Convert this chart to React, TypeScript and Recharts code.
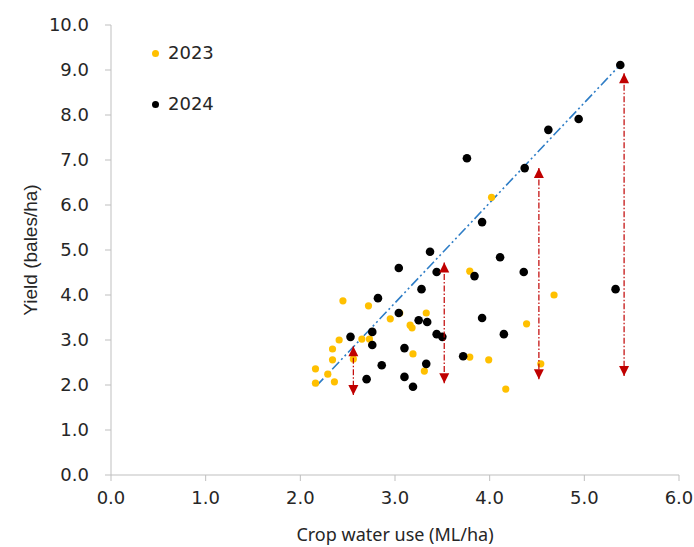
import React from "react";
import { ScatterChart, Scatter, XAxis, YAxis } from "recharts";

const xTicks = [0, 1, 2, 3, 4, 5, 6];
const yTicks = [0, 1, 2, 3, 4, 5, 6, 7, 8, 9, 10];

const water2023 = [2.16, 2.16, 2.29, 2.36, 2.34, 2.34, 2.41, 2.45, 2.56, 2.65, 2.73, 2.72, 2.95, 3.05, 3.33, 3.16, 3.18, 3.19, 3.31, 4.02, 3.79, 4.68, 4.39, 3.79, 3.99, 4.54, 4.17];
const yield2023 = [2.36, 2.04, 2.24, 2.07, 2.56, 2.8, 3.0, 3.87, 2.58, 3.02, 3.02, 3.76, 3.47, 3.6, 3.6, 3.33, 3.27, 2.69, 2.31, 6.17, 4.53, 4.0, 3.36, 2.62, 2.56, 2.47, 1.91];

const water2024 = [5.38, 4.94, 4.62, 4.37, 3.76, 3.92, 4.11, 4.36, 5.33, 3.37, 3.44, 3.84, 3.04, 2.82, 3.28, 3.04, 3.25, 3.34, 3.92, 3.44, 3.5, 4.15, 2.53, 2.76, 2.76, 3.1, 2.86, 3.33, 3.72, 2.7, 3.1, 3.19];
const yield2024 = [9.11, 7.91, 7.67, 6.82, 7.04, 5.62, 4.84, 4.51, 4.13, 4.96, 4.51, 4.42, 4.6, 3.93, 4.13, 3.6, 3.44, 3.4, 3.49, 3.13, 3.07, 3.13, 3.07, 3.18, 2.89, 2.82, 2.44, 2.47, 2.64, 2.13, 2.18, 1.96];

const trendX = [2.17, 5.35];
const trendY = [1.98, 9.05];

const arrowX = [2.56, 3.52, 4.52, 5.42];
const arrowTop = [2.86, 4.72, 6.82, 8.93];
const arrowBottom = [1.78, 2.04, 2.13, 2.2];

const legendLabels = ["2023", "2024"];

const data2023 = water2023.map((x, i) => ({ x, y: yield2023[i] }));
const data2024 = water2024.map((x, i) => ({ x, y: yield2024[i] }));
const trendData = trendX.map((x, i) => ({ x, y: trendY[i] }));
const arrows = arrowX.map((x, i) => [
  { x, y: arrowTop[i], dir: "up" },
  { x, y: arrowBottom[i], dir: "down" },
]);

const TICKFONT = "'DejaVu Sans', sans-serif";
const XLABELFONT = "'Noto Sans', sans-serif";
const YLABELFONT = "'Liberation Sans', Arial, sans-serif";
const AXIS = "#BFBFBF";
const TEXT = "#262626";
const RED = "#C00000";

const Dot = (r: number, fill: string) => (p: any) =>
  <circle cx={p.cx} cy={p.cy} r={r} fill={fill} />;

const Arrow = (p: any) => {
  const { cx, cy, payload } = p;
  const h = 10;
  const w = 5;
  if (payload.dir === "up") {
    return <polygon points={`${cx},${cy} ${cx - w},${cy + h} ${cx + w},${cy + h}`} fill={RED} />;
  }
  return <polygon points={`${cx},${cy} ${cx - w},${cy - h} ${cx + w},${cy - h}`} fill={RED} />;
};

const Empty = () => <g />;

export default function App() {
  return (
    <div style={{ position: "absolute", left: 0, top: 0, width: 694, height: 547, background: "#fff" }}>
      <ScatterChart width={694} height={547} margin={{ top: 25, right: 15, bottom: 0, left: 0 }}>
        <XAxis
          type="number"
          dataKey="x"
          domain={[0, 6]}
          ticks={xTicks}
          interval={0}
          height={72}
          tickFormatter={(v: number) => v.toFixed(1)}
          stroke={AXIS}
          tickSize={6}
          tickMargin={10}
          tick={{ fill: TEXT, fontSize: 18, fontFamily: TICKFONT }}
          label={{ value: "Crop water use (ML/ha)", position: "insideBottom", offset: 6, fill: TEXT, fontSize: 18, fontFamily: XLABELFONT }}
          allowDataOverflow
        />
        <YAxis
          type="number"
          dataKey="y"
          domain={[0, 10]}
          ticks={yTicks}
          interval={0}
          width={111}
          tickFormatter={(v: number) => v.toFixed(1)}
          stroke={AXIS}
          tickSize={6}
          tickMargin={16}
          tick={{ fill: TEXT, fontSize: 18, fontFamily: TICKFONT }}
          label={{ value: "Yield (bales/ha)", angle: -90, position: "insideLeft", offset: 30, style: { textAnchor: "middle" }, fill: TEXT, fontSize: 19, fontFamily: YLABELFONT }}
          allowDataOverflow
        />
        <Scatter
          data={trendData}
          isAnimationActive={false}
          shape={Empty}
          line={{ stroke: "#2E7DC6", strokeWidth: 1.6, strokeDasharray: "10 3 2 3 2 3" }}
        />
        <Scatter data={data2023} isAnimationActive={false} shape={Dot(3.6, "#FFC000")} />
        <Scatter data={data2024} isAnimationActive={false} shape={Dot(4.3, "#000000")} />
        {arrows.map((d, i) => (
          <Scatter
            key={i}
            data={d}
            isAnimationActive={false}
            shape={Arrow}
            line={{ stroke: RED, strokeWidth: 1.2, strokeDasharray: "6 2 1.5 2" }}
          />
        ))}
      </ScatterChart>
      <div style={{ position: "absolute", left: 152, top: 41, fontSize: 18, color: TEXT, lineHeight: "24px", fontFamily: TICKFONT }}>
        <div style={{ display: "flex", alignItems: "center", height: 24 }}>
          <span style={{ width: 7, height: 7, borderRadius: "50%", background: "#FFC000", display: "inline-block", marginRight: 9 }} />
          <span>{legendLabels[0]}</span>
        </div>
        <div style={{ display: "flex", alignItems: "center", height: 24, marginTop: 27 }}>
          <span style={{ width: 7, height: 7, borderRadius: "50%", background: "#000", display: "inline-block", marginRight: 9 }} />
          <span>{legendLabels[1]}</span>
        </div>
      </div>
    </div>
  );
}
